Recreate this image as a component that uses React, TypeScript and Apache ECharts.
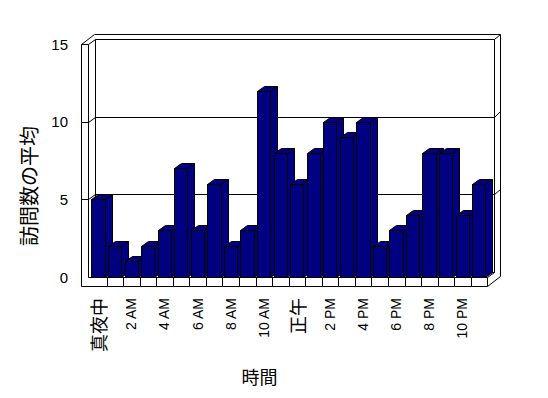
import React, { useEffect, useRef } from "react";
import * as echarts from "echarts";

const categories = [
  "真夜中", "1 AM", "2 AM", "3 AM", "4 AM", "5 AM", "6 AM", "7 AM", "8 AM", "9 AM", "10 AM", "11 AM",
  "正午", "1 PM", "2 PM", "3 PM", "4 PM", "5 PM", "6 PM", "7 PM", "8 PM", "9 PM", "10 PM", "11 PM",
];
const visits = [5, 2, 1, 2, 3, 7, 3, 6, 2, 3, 12, 8, 6, 8, 10, 9, 10, 2, 3, 4, 8, 8, 4, 6];
const yMin = 0;
const yMax = 15;
const yStep = 5;
const gridValues = [5, 10];
const xTitle = "時間";
const yTitle = "訪問数の平均";

const DX1 = 7, DY1 = -5;       // depth to back wall front surface / bar depth
const DX2 = 12.5, DY2 = -10.5; // depth to back wall outer surface
const WALL = 6.7;              // left wall thickness
const GAP = 2;                 // between wall inner face and first category
const FLOOR = 9.3;             // floor slab thickness
const BAR_COLOR = "#000080";

const c = (v: number) => Math.round(v) + 0.5;
const line = (pts: number[][]) => ({
  type: "polyline",
  shape: { points: pts.map((p) => [c(p[0]), c(p[1])]) },
  style: { stroke: "#000", fill: null, lineWidth: 1 },
});

function frameRender(params: any, api: any) {
  const bw = api.size([1, 0])[0];
  const xL = api.coord([0, 0])[0] - bw / 2;
  const xR = api.coord([categories.length - 1, 0])[0] + bw / 2;
  const y0 = api.coord([0, yMin])[1];
  const yT = api.coord([0, yMax])[1];
  const xIn = xL - GAP;
  const xOut = xIn - WALL;
  const yFl = y0 + FLOOR;
  const ch: any[] = [];
  // left wall
  ch.push(line([[xOut, yT], [xOut, yFl]]));
  ch.push(line([[xIn, yT], [xIn, y0]]));
  ch.push(line([[xOut, yT], [xIn, yT]]));
  ch.push(line([[xOut, yT], [xOut + DX2, yT + DY2]]));
  ch.push(line([[xIn, yT], [xIn + DX1, yT + DY1]]));
  // back wall front surface
  ch.push(line([[xIn + DX1, yT + DY1], [xR + DX1, yT + DY1], [xR + DX1, y0 + DY1], [xIn + DX1, y0 + DY1], [xIn + DX1, yT + DY1]]));
  // back wall outer
  ch.push(line([[xOut + DX2, yT + DY2], [xR + DX2, yT + DY2], [xR + DX2, yFl + DY2]]));
  ch.push(line([[xR + DX1, yT + DY1], [xR + DX2, yT + DY2]]));
  // grid lines
  gridValues.forEach((v) => {
    const y = api.coord([0, v])[1];
    ch.push(line([[xIn + DX1, y + DY1], [xR + DX1, y + DY1], [xR + DX2, y + DY2]]));
    ch.push(line([[xOut, y], [xIn, y], [xIn + DX1, y + DY1]]));
  });
  // floor
  ch.push(line([[xIn, y0], [xR, y0], [xR + DX1, y0 + DY1]]));
  ch.push(line([[xOut, yFl], [xR, yFl], [xR + DX2, yFl + DY2]]));
  ch.push(line([[xR, y0], [xR, yFl]]));
  for (let k = 1; k < categories.length; k++) {
    const x = xL + k * bw;
    ch.push(line([[x, y0], [x, yFl]]));
  }
  return { type: "group", children: ch };
}

function barRender(params: any, api: any) {
  const i = api.value(0);
  const v = api.value(1);
  const bw = api.size([1, 0])[0];
  const base = api.coord([i, 0]);
  const top = api.coord([i, v]);
  const s = base[0] - bw / 2;
  const x0 = c(s + bw * 0.085);
  const x1 = c(s + bw * 0.085 + bw * 0.8);
  const yb = c(base[1]);
  const yt = c(top[1]);
  const st = { fill: BAR_COLOR, stroke: "#000", lineWidth: 1 };
  return {
    type: "group",
    children: [
      { type: "polygon", shape: { points: [[x0, yt], [x1, yt], [x1, yb], [x0, yb]] }, style: st },
      { type: "polygon", shape: { points: [[x0, yt], [x0 + DX1, yt + DY1], [x1 + DX1, yt + DY1], [x1, yt]] }, style: st },
      { type: "polygon", shape: { points: [[x1, yt], [x1 + DX1, yt + DY1], [x1 + DX1, yb + DY1], [x1, yb]] }, style: st },
    ],
  };
}

export default function App() {
  const ref = useRef<HTMLDivElement>(null);
  useEffect(() => {
    if (!ref.current) return;
    const chart = echarts.init(ref.current, null, { renderer: "svg" });
    chart.setOption({
      animation: false,
      backgroundColor: "#fff",
      grid: { left: 90, right: 60.7, top: 44, bottom: 121 },
      xAxis: {
        type: "category",
        data: categories,
        boundaryGap: true,
        axisLine: { show: false },
        axisTick: { show: false },
        splitLine: { show: false },
        axisLabel: {
          interval: 1,
          rotate: 90,
          margin: 21,
          color: "#000",
          formatter: (v: string) => (/[A-Z0-9]/.test(v) ? `{a|${v}}` : `{j|${v}}`),
          rich: {
            a: { fontSize: 14, fontFamily: "Liberation Sans", color: "#000" },
            j: { fontSize: 18, fontFamily: "Noto Sans CJK JP", color: "#000" },
          },
        },
      },
      yAxis: {
        type: "value",
        min: yMin,
        max: yMax,
        interval: yStep,
        axisLine: { show: false },
        axisTick: { show: false },
        splitLine: { show: false },
        axisLabel: { margin: 22, fontSize: 15, fontFamily: "Liberation Sans", color: "#000" },
      },
      graphic: [
        {
          type: "text",
          x: 259.5,
          y: 375.5,
          style: { text: xTitle, fontSize: 18, fontFamily: "Noto Sans CJK JP", fill: "#000", align: "center", verticalAlign: "middle" },
        },
        {
          type: "text",
          x: 28,
          y: 186,
          rotation: Math.PI / 2,
          style: { text: yTitle, fontSize: 20, fontFamily: "Noto Sans CJK JP", fill: "#000", align: "center", verticalAlign: "middle" },
        },
      ],
      series: [
        {
          type: "custom",
          coordinateSystem: "cartesian2d",
          renderItem: frameRender,
          data: [[0, 0]],
          z: 1,
          silent: true,
        },
        {
          type: "custom",
          coordinateSystem: "cartesian2d",
          renderItem: barRender,
          data: visits.map((v, i) => [i, v]),
          z: 2,
        },
      ],
    });
    return () => chart.dispose();
  }, []);
  return <div ref={ref} style={{ position: "fixed", left: 0, top: 0, width: 548, height: 398 }} />;
}
